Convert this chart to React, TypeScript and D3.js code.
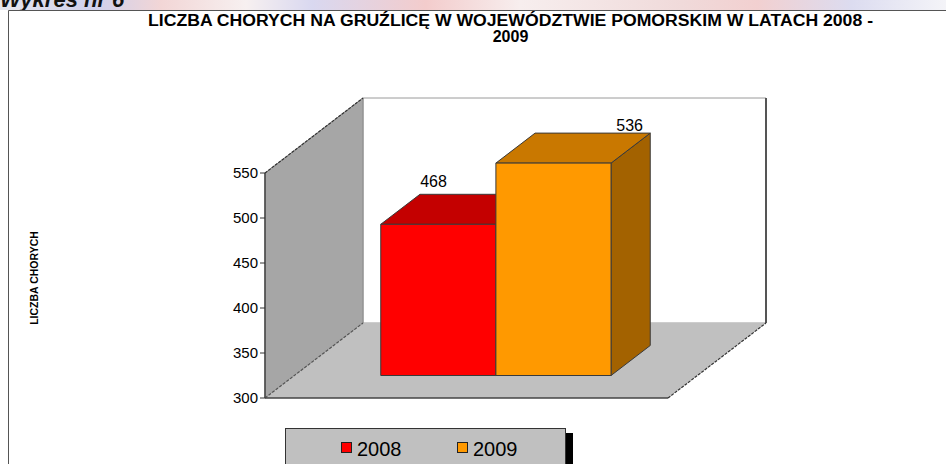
import React from "react";
import * as d3 from "d3";

const categories = ["2008 - 2009"];
const seriesNames = ["2008", "2009"];
const seriesValues = [468, 536];
const yTicks = [300, 350, 400, 450, 500, 550];
const titleLines = [
  "LICZBA CHORYCH NA GRUŹLICĘ W WOJEWÓDZTWIE POMORSKIM W LATACH 2008 -",
  "2009",
];
const yAxisTitle = "LICZBA CHORYCH";
const headerText = "Wykres nr 6";

const frontColors = ["#FF0000", "#FF9900"];
const topColors = ["#C40000", "#C97800"];
const sideColors = ["#9E0000", "#A36200"];
const labelOffsets: [number, number][] = [[-44, -7], [37, -2]];

const FONT = "Arial, 'Liberation Sans', sans-serif";

export default function App() {
  const W = 946, H = 464;
  const x0 = 265, x1 = 668, yBottom = 398, yTop = 173;
  const DX = 98, DY = -75;
  const f0 = 0.3, f1 = 0.7;

  const y = d3.scaleLinear().domain([300, 550]).range([yBottom, yTop]);
  const xc = d3.scaleBand<string>().domain(categories).range([x0, x1]).paddingOuter(0.375).paddingInner(0);
  const xs = d3.scaleBand<string>().domain(seriesNames).range([0, xc.bandwidth()]).padding(0);

  const off = (f: number) => [DX * f, DY * f];
  const [ax, ay] = off(f0);
  const [bx, by] = off(f1);

  const pts = (p: number[][]) => p.map((q) => q.join(",")).join(" ");

  const bars = seriesValues.map((v, i) => {
    const left = (xc(categories[0]) as number) + (xs(seriesNames[i]) as number);
    const right = left + xs.bandwidth();
    const yt = y(v), yb = y(300);
    const front = [[left + ax, yt + ay], [right + ax, yt + ay], [right + ax, yb + ay], [left + ax, yb + ay]];
    const top = [[left + ax, yt + ay], [left + bx, yt + by], [right + bx, yt + by], [right + ax, yt + ay]];
    const side = [[right + ax, yt + ay], [right + bx, yt + by], [right + bx, yb + by], [right + ax, yb + ay]];
    const lx = (left + right) / 2 + bx + labelOffsets[i][0];
    const ly = yt + by + labelOffsets[i][1];
    return { i, v, front, top, side, lx, ly };
  });

  const edge = "#3a3a3a";

  return (
    <svg width={W} height={H} style={{ position: "absolute", left: 0, top: 0, background: "#fff" }} fontFamily={FONT}>
      <defs>
        <linearGradient id="hdr" x1="0" x2="1" y1="0" y2="0">
          <stop offset="0" stopColor="#e6e6ee" />
          <stop offset="0.1" stopColor="#cfd0ec" />
          <stop offset="0.17" stopColor="#f2d6d6" />
          <stop offset="0.26" stopColor="#f7f0f0" />
          <stop offset="0.33" stopColor="#d9d8f0" />
          <stop offset="0.45" stopColor="#f3cccc" />
          <stop offset="0.55" stopColor="#f7eeee" />
          <stop offset="0.72" stopColor="#f0dada" />
          <stop offset="0.8" stopColor="#f2d0d0" />
          <stop offset="0.9" stopColor="#dcdcf0" />
          <stop offset="1" stopColor="#f4f4f8" />
        </linearGradient>
      </defs>
      <rect x={0} y={0} width={W} height={10} fill="url(#hdr)" />
      <text x={0} y={7} fontSize={22} fontWeight="bold" fontStyle="italic" fill="#111">{headerText}</text>
      <rect x={0} y={10.5} width={W} height={H} fill="#fff" />
      <line x1={8.5} y1={10.5} x2={W} y2={10.5} stroke="#555" strokeWidth={1} />
      <line x1={8.5} y1={10.5} x2={8.5} y2={H} stroke="#555" strokeWidth={1} />

      {titleLines.map((t, k) => (
        <text key={k} x={510.5} y={25.5 + k * 16.5} textAnchor="middle" fontSize={16} fontWeight="bold" fill="#000"
          textLength={k === 0 ? 725 : undefined} lengthAdjust="spacingAndGlyphs">{t}</text>
      ))}

      <text transform={`translate(38,${278}) rotate(-90)`} textAnchor="middle" fontSize={10.5} fontWeight="bold" fill="#000">{yAxisTitle}</text>

      <polygon points={pts([[x0 + DX, yTop + DY], [x1 + DX, yTop + DY], [x1 + DX, yBottom + DY], [x0 + DX, yBottom + DY]])} fill="#fff" stroke="#9a9a9a" strokeWidth={1} />
      <polygon points={pts([[x0, yTop], [x0 + DX, yTop + DY], [x0 + DX, yBottom + DY], [x0, yBottom]])} fill="#A6A6A6" stroke="#8a8a8a" strokeWidth={1} />
      <polygon points={pts([[x0, yBottom], [x0 + DX, yBottom + DY], [x1 + DX, yBottom + DY], [x1, yBottom]])} fill="#C0C0C0" stroke="none" />
      <line x1={x1 + DX} y1={yTop + DY} x2={x1 + DX} y2={yBottom + DY} stroke="#555" strokeWidth={2} />
      <line x1={x0} y1={yTop} x2={x0 + DX} y2={yTop + DY} stroke="#333" strokeWidth={1.2} strokeDasharray="3 1.2" />
      <line x1={x0} y1={yBottom} x2={x0 + DX} y2={yBottom + DY} stroke="#555" strokeWidth={1.2} strokeDasharray="3 1.5" />
      <line x1={x1} y1={yBottom} x2={x1 + DX} y2={yBottom + DY} stroke="#333" strokeWidth={1.2} strokeDasharray="3 1.2" />
      <line x1={x0} y1={yBottom} x2={x1} y2={yBottom} stroke="#444" strokeWidth={1.5} />
      <line x1={x0} y1={yBottom} x2={x0} y2={yTop} stroke="#444" strokeWidth={1.5} />

      {yTicks.map((t) => (
        <g key={t}>
          <line x1={x0 - 5} x2={x0} y1={y(t)} y2={y(t)} stroke="#333" strokeWidth={1} />
          <text x={x0 - 7} y={y(t) + 1} dominantBaseline="middle" textAnchor="end" fontSize={15} fill="#000">{t}</text>
        </g>
      ))}

      {bars.map((b) => (
        <g key={b.i}>
          <polygon points={pts(b.side)} fill={sideColors[b.i]} stroke={edge} strokeWidth={1} strokeLinejoin="round" />
          <polygon points={pts(b.top)} fill={topColors[b.i]} stroke={edge} strokeWidth={1} strokeLinejoin="round" />
          <polygon points={pts(b.front)} fill={frontColors[b.i]} stroke={edge} strokeWidth={1} strokeLinejoin="round" />
        </g>
      ))}
      {bars.map((b) => (
        <text key={"l" + b.i} x={b.lx} y={b.ly} textAnchor="middle" fontSize={16} fill="#000">{b.v}</text>
      ))}

      <rect x={566} y={433} width={7} height={H - 433} fill="#000" />
      <rect x={285.5} y={428.5} width={280} height={H} fill="#C0C0C0" stroke="#333" strokeWidth={1} />
      {seriesNames.map((s, i) => (
        <g key={s} transform={`translate(${341 + i * 116},0)`}>
          <rect x={0.5} y={442.5} width={10} height={10} fill={frontColors[i]} stroke="#222" strokeWidth={1} />
          <text x={16} y={456} fontSize={20} fill="#000">{s}</text>
        </g>
      ))}
    </svg>
  );
}
